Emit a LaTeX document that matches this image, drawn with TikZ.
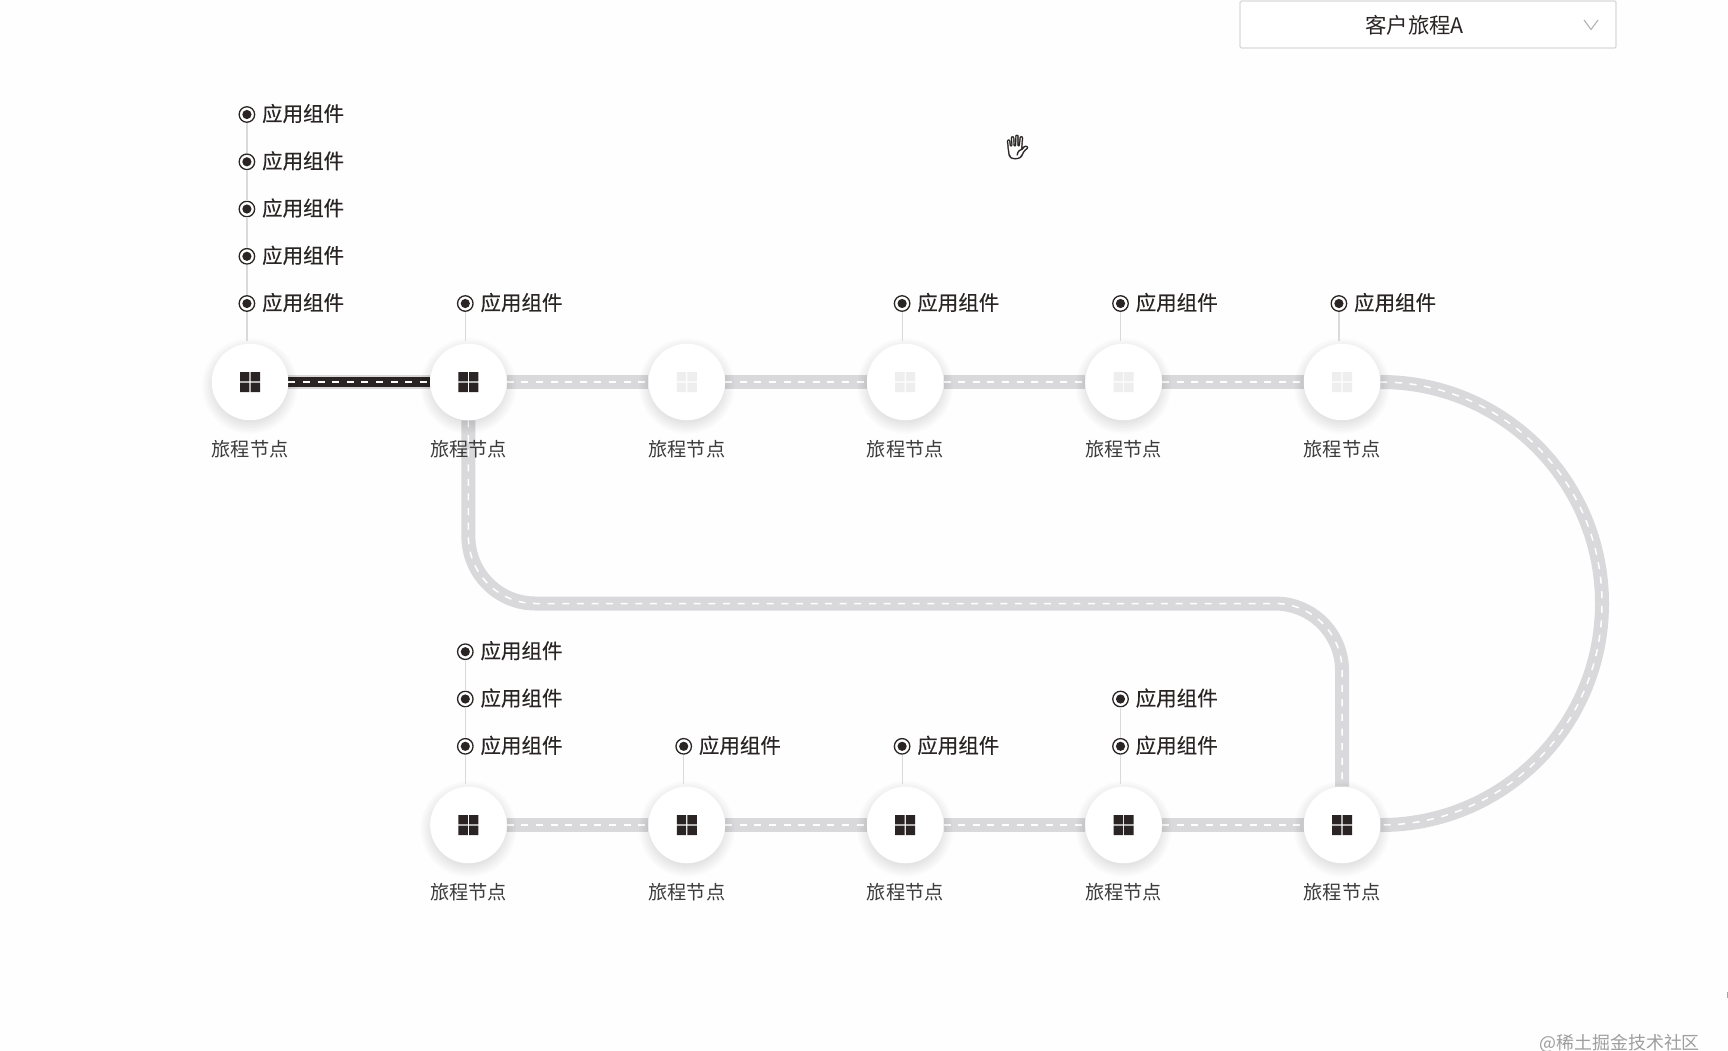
\documentclass[tikz,border=0pt]{standalone}
\usepackage{fontspec}
\setmainfont{Noto Sans CJK SC}
\newfontfamily\pinfont[FakeBold=0.25]{Noto Sans CJK SC}
\newfontfamily\emojifont[FakeBold=1.2]{Noto Emoji}
\pgfdeclarelayer{roadlayer}
\pgfdeclarelayer{halolayer}
\pgfsetlayers{roadlayer,halolayer,main}
\definecolor{ink}{HTML}{2A2424}
\definecolor{roadgrey}{HTML}{D9D9DB}
\definecolor{stemgrey}{HTML}{DADADC}
\definecolor{iconlight}{HTML}{EEEEEE}
\definecolor{labelink}{HTML}{3C3C3C}
\definecolor{paper}{HTML}{FEFEFE}
\tikzset{
  stopbase/.style={circle,fill=white,minimum size=76.5pt,inner sep=0pt},
  stopdark/.style={stopbase,path picture={\fill[ink,shift={(path picture bounding box.center)}]
    (-10,-10) rectangle (-0.6,-0.6) (0.6,-10) rectangle (10,-0.6)
    (-10,0.6) rectangle (-0.6,10) (0.6,0.6) rectangle (10,10);}},
  stoplight/.style={stopbase,path picture={\fill[iconlight,shift={(path picture bounding box.center)}]
    (-10,-10) rectangle (-0.6,-0.6) (0.6,-10) rectangle (10,-0.6)
    (-10,0.6) rectangle (-0.6,10) (0.6,0.6) rectangle (10,10);}},
  stoplabel/.style={font=\fontsize{19.2}{19.2}\selectfont,text=labelink,inner sep=0pt},
  pinmark/.style={circle,draw=ink,line width=1.3pt,fill=white,minimum size=15.5pt,inner sep=0pt,
    path picture={\fill[ink] (path picture bounding box.center) circle (4.6pt);}},
  pintext/.style={font=\pinfont\fontsize{20.5}{20.5}\selectfont,text=ink,inner sep=0pt,anchor=west},
  stem/.style={draw=stemgrey,line width=1.2pt},
  road/.style={draw=roadgrey,line width=14pt,postaction={draw=white,line width=1.5pt,dash pattern=on 7pt off 7.6pt}},
  roaddone/.style={draw=roadgrey,line width=14pt,postaction={draw=ink,line width=10pt,postaction={draw=white,line width=1.5pt,dash pattern=on 7pt off 7.6pt}}},
}
\newcommand{\pinrow}[3]{% name, x, y
  \node[pinmark] (#1) at (#2,#3) {};
  \node[pintext] (#1t) at (#2+15,#3-1) {应用组件};
}
\begin{document}
\begin{tikzpicture}[x=1pt,y=-1pt]
\useasboundingbox (0,0) rectangle (1728,1050);
\begin{pgfonlayer}{roadlayer}
\fill[paper] (0,0) rectangle (1728,1050);
\end{pgfonlayer}

% stops, top row
\node[stopdark]  (a1) at (250,382) {};
\node[stopdark]  (a2) at (468.4,382) {};
\node[stoplight] (a3) at (686.8,382) {};
\node[stoplight] (a4) at (905.2,382) {};
\node[stoplight] (a5) at (1123.6,382) {};
\node[stoplight] (a6) at (1342,382) {};
% stops, bottom row
\node[stopdark] (b1) at (468.4,825) {};
\node[stopdark] (b2) at (686.8,825) {};
\node[stopdark] (b3) at (905.2,825) {};
\node[stopdark] (b4) at (1123.6,825) {};
\node[stopdark] (b5) at (1342,825) {};

% labels
\foreach \s in {a1,a2,a3,a4,a5,a6}{\node[stoplabel] (\s l) at ([yshift=-67pt]\s.center) {旅程节点};}
\foreach \s in {b1,b2,b3,b4,b5}{\node[stoplabel] (\s l) at ([yshift=-67pt]\s.center) {旅程节点};}

% pins above stops
\pinrow{p11}{246.9}{114.5}
\pinrow{p12}{246.9}{161.8}
\pinrow{p13}{246.9}{209}
\pinrow{p14}{246.9}{256.3}
\pinrow{p15}{246.9}{303.5}
\pinrow{p2}{465.3}{303.5}
\pinrow{p4}{902.1}{303.5}
\pinrow{p5}{1120.5}{303.5}
\pinrow{p6}{1338.9}{303.5}
\pinrow{q11}{465.3}{651.7}
\pinrow{q12}{465.3}{699}
\pinrow{q13}{465.3}{746.3}
\pinrow{q2}{683.7}{746.3}
\pinrow{q3}{902.1}{746.3}
\pinrow{q41}{1120.5}{699}
\pinrow{q42}{1120.5}{746.3}

% stems
\begin{scope}[every path/.style={stem}]
\draw (p11) -- (p12);
\draw (p12) -- (p13);
\draw (p13) -- (p14);
\draw (p14) -- (p15);
\draw[shorten >=2.5pt] (p15) -- (p15 |- a1.north);
\draw[shorten >=2.5pt] (p2) -- (p2 |- a2.north);
\draw[shorten >=2.5pt] (p4) -- (p4 |- a4.north);
\draw[shorten >=2.5pt] (p5) -- (p5 |- a5.north);
\draw[shorten >=2.5pt] (p6) -- (p6 |- a6.north);
\draw (q11) -- (q12);
\draw (q12) -- (q13);
\draw[shorten >=2.5pt] (q13) -- (q13 |- b1.north);
\draw[shorten >=2.5pt] (q2) -- (q2 |- b2.north);
\draw[shorten >=2.5pt] (q3) -- (q3 |- b3.north);
\draw (q41) -- (q42);
\draw[shorten >=2.5pt] (q42) -- (q42 |- b4.north);
\end{scope}

% shadows
\begin{pgfonlayer}{halolayer}
\foreach \s in {a1,a2,a3,a4,a5,a6,b1,b2,b3,b4,b5}{
  \foreach \r in {36,37.5,...,49}{
    \fill[black,opacity=0.012] ([yshift=-4pt]\s.center) circle (\r pt);
  }
}
\end{pgfonlayer}

% roads
\coordinate (turnA) at (468.4,603.5);
\coordinate (turnB) at (1342,603.5);
\coordinate (bigTop) at (1381,382);
\coordinate (bigMid) at (1602,603.5);
\coordinate (bigEnd) at (1381,825);
\begin{pgfonlayer}{roadlayer}
\draw[roaddone] (a1) -- (a2);
\draw[road] (a2) -- (a3);
\draw[road] (a3) -- (a4);
\draw[road] (a4) -- (a5);
\draw[road] (a5) -- (a6);
\draw[road] (a6.east) -- (bigTop) .. controls (1503,382) and (1602,481) .. (bigMid)
   .. controls (1602,726) and (1503,825) .. (bigEnd) -- (b5.east);
\draw[road,rounded corners=67pt] (a2.south) -- (turnA) -- (turnB) -- (b5.north);
\draw[road] (b1) -- (b2);
\draw[road] (b2) -- (b3);
\draw[road] (b3) -- (b4);
\draw[road] (b4) -- (b5);
\end{pgfonlayer}

% selector
\node[draw=stemgrey,line width=1.4pt,rounded corners=1.5pt,fill=white,minimum width=376pt,minimum height=47pt,inner sep=0pt] (sel) at (1428,24.5) {};
\node[font=\fontsize{21.4}{21.4}\selectfont,text=ink,inner sep=0pt] (seltext) at (1414.5,25) {客户旅程A};
\coordinate (chevL) at (1584,20);
\coordinate (chevM) at (1591,29.5);
\coordinate (chevR) at (1598,20);
\draw[draw=black!30,line width=1.1pt] (chevL) -- (chevM) -- (chevR);

% cursor
\node[font=\emojifont\fontsize{24}{24}\selectfont,text=ink,inner sep=0pt] (hand) at (1017.5,147) {🖐};

% watermark
\node[font=\fontsize{17.9}{17.9}\selectfont,text=black!38,inner sep=0pt,anchor=east] (mark) at (1700,1043) {@稀土掘金技术社区};
% speck at the right edge
\fill[black!35] (1726.6,992) rectangle (1728,998);
\end{tikzpicture}
\end{document}
